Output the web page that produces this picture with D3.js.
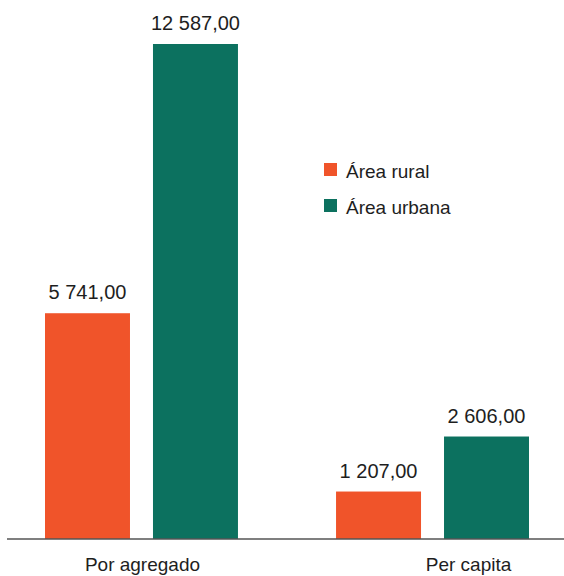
<!DOCTYPE html>
<html>
<head>
<meta charset="utf-8">
<script src="https://cdn.jsdelivr.net/npm/d3@7"></script>
<style>
  html, body { margin: 0; padding: 0; background: #fff; }
  svg text { font-family: "Liberation Sans", Arial, sans-serif; fill: #1e1e1e; }
</style>
</head>
<body>
<svg id="chart" width="564" height="576"></svg>
<script>
// Categories and series
const categories = ["Por agregado", "Per capita"];
const seriesNames = ["Área rural", "Área urbana"];
const ruralValues = [5741, 1207];
const urbanValues = [12587, 2606];
const seriesColors = ["#f0542a", "#0c715f"];

const svg = d3.select("#chart");
const W = 564, H = 576;
const baseY = 539, plotTop = 44;

const rows = categories.map((c, i) => ({
  category: c,
  values: [ruralValues[i], urbanValues[i]]
}));

const x0 = d3.scaleBand().domain(categories).range([45, 529])
  .paddingInner(0.337).paddingOuter(0);
const x1 = d3.scaleBand().domain(seriesNames).range([0, x0.bandwidth()])
  .paddingInner(0.213).paddingOuter(0);
const y = d3.scaleLinear().domain([0, d3.max(urbanValues)]).range([baseY, plotTop]);

const fmt = v => d3.format(",.2f")(v).replace(/,/g, " ").replace(".", ",");

const groups = svg.selectAll("g.group").data(rows).join("g")
  .attr("class", "group")
  .attr("transform", d => `translate(${x0(d.category)},0)`);

groups.selectAll("rect").data(d => d.values.map((v, k) => ({ key: seriesNames[k], v, k })))
  .join("rect")
  .attr("x", d => x1(d.key))
  .attr("y", d => y(d.v))
  .attr("width", x1.bandwidth())
  .attr("height", d => baseY - y(d.v))
  .attr("fill", d => seriesColors[d.k]);

groups.selectAll("text.val").data(d => d.values.map((v, k) => ({ key: seriesNames[k], v, k })))
  .join("text")
  .attr("class", "val")
  .attr("x", d => x1(d.key) + x1.bandwidth() / 2)
  .attr("y", d => y(d.v) - 14)
  .attr("text-anchor", "middle")
  .attr("font-size", 20)
  .text(d => fmt(d.v));

// Baseline axis
svg.append("line")
  .attr("x1", 7).attr("x2", W)
  .attr("y1", baseY).attr("y2", baseY)
  .attr("stroke", "#555").attr("stroke-width", 1.6);

// Category labels
const labelShift = [1, 36];
svg.selectAll("text.cat").data(categories).join("text")
  .attr("class", "cat")
  .attr("x", (d, i) => x0(d) + x0.bandwidth() / 2 + labelShift[i])
  .attr("y", 571)
  .attr("text-anchor", "middle")
  .attr("font-size", 19)
  .text(d => d);

// Legend
const legend = svg.append("g").attr("transform", "translate(324,163)");
const items = legend.selectAll("g").data(seriesNames).join("g")
  .attr("transform", (d, i) => `translate(0,${i * 36})`);
items.append("rect").attr("width", 13).attr("height", 13)
  .attr("fill", (d, i) => seriesColors[i]);
items.append("text").attr("x", 22).attr("y", 15)
  .attr("font-size", 19).text(d => d);
</script>
</body>
</html>
